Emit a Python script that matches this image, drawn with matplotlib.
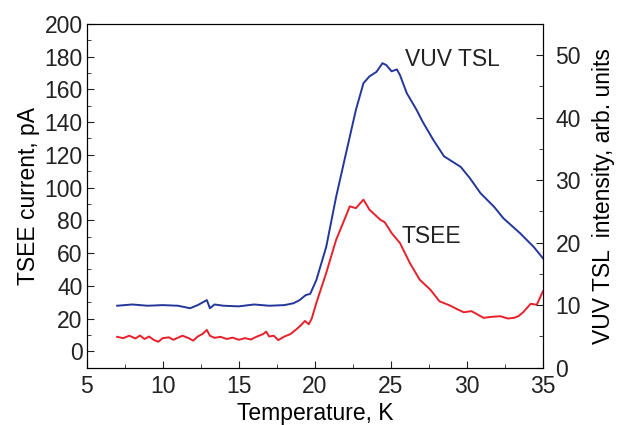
import numpy as np
import matplotlib
matplotlib.use('Agg')
import matplotlib.pyplot as plt
from matplotlib.ticker import MultipleLocator

plt.rcParams['font.family'] = ['Liberation Sans', 'DejaVu Sans']
plt.rcParams['font.size'] = 16.5
plt.rcParams['text.color'] = '#222222'
plt.rcParams['xtick.color'] = '#222222'
plt.rcParams['ytick.color'] = '#222222'

# TSEE current, pA (left axis)
t_tsee = [7.0, 7.4, 7.8, 8.2, 8.5, 8.8, 9.1, 9.4, 9.7, 10.0, 10.4, 10.7, 11.0, 11.3,
          11.7, 12.0, 12.3, 12.6, 12.9, 13.1, 13.4, 13.8, 14.2, 14.6, 15.0, 15.4,
          15.8, 16.2, 16.6, 16.8, 17.0, 17.3, 17.6, 18.0, 18.4, 18.8, 19.1, 19.35,
          19.6, 19.8, 20.1, 20.75, 21.4, 21.9, 22.3, 22.7, 23.2, 23.6, 24.3, 24.6,
          25.05, 25.6, 26.25, 26.9, 27.6, 28.2, 28.9, 29.4, 29.8, 30.3, 30.6, 31.1,
          31.6, 32.2, 32.7, 33.1, 33.4, 33.7, 34.2, 34.6, 35.0]
tsee = [8.8, 8.0, 9.5, 7.8, 9.6, 7.5, 9.0, 7.0, 5.8, 8.0, 8.5, 7.0, 8.3, 9.5,
        8.0, 6.5, 9.0, 10.5, 13.0, 9.5, 8.2, 8.8, 7.5, 8.3, 7.0, 8.0,
        7.2, 9.0, 10.5, 12.0, 9.0, 9.5, 6.8, 9.0, 10.5, 13.5, 16.0, 18.5,
        16.5, 20.0, 29.5, 47.8, 68.0, 79.3, 88.5, 87.4, 92.6, 86.4, 80.4, 78.8,
        72.2, 66.1, 53.9, 43.7, 37.6, 30.5, 27.9, 25.5, 23.8, 24.5, 23.0, 20.4,
        21.0, 21.4, 20.0, 20.4, 21.5, 23.8, 29.0, 28.4, 36.6]

# VUV TSL intensity, arb. units (right axis)
t_tsl = [7.0, 8.0, 9.0, 10.0, 11.0, 11.8, 12.3, 12.9, 13.1, 13.4, 14.0, 15.0,
         16.0, 17.0, 18.0, 18.6, 19.0, 19.4, 19.7, 20.1, 20.75, 21.4, 22.1, 22.7,
         23.2, 23.6, 24.05, 24.45, 24.7, 25.05, 25.4, 25.6, 26.05, 26.7, 27.1,
         27.8, 28.5, 29.6, 30.2, 30.9, 31.8, 32.4, 33.5, 34.4, 35.0]
tsl = [9.9, 10.1, 9.9, 10.0, 9.9, 9.5, 10.0, 10.8, 9.5, 10.1, 9.9, 9.8,
       10.1, 9.9, 10.0, 10.3, 10.8, 11.6, 11.8, 14.0, 19.3, 27.3, 34.8, 41.2,
       45.5, 46.6, 47.3, 48.7, 48.4, 47.4, 47.7, 46.8, 43.9, 41.2, 39.3,
       36.4, 33.8, 32.1, 30.3, 27.9, 25.7, 23.9, 21.5, 19.3, 17.5]

fig = plt.figure(figsize=(6.24, 4.25), dpi=100)
ax = fig.add_axes([0.139, 0.135, 0.731, 0.809])
ax2 = ax.twinx()

ax.plot(t_tsee, tsee, color='#e8202a', lw=1.4)
ax2.plot(t_tsl, tsl, color='#23369a', lw=1.4)

ax.set_xlim(5, 35)
ax.set_ylim(-10, 200)
ax2.set_ylim(0, 55)

ax.xaxis.set_major_locator(MultipleLocator(5))
ax.xaxis.set_minor_locator(MultipleLocator(2.5))
ax.yaxis.set_major_locator(MultipleLocator(20))
ax.yaxis.set_minor_locator(MultipleLocator(10))
ax2.yaxis.set_major_locator(MultipleLocator(10))
ax2.yaxis.set_minor_locator(MultipleLocator(5))

ax.tick_params(which='both', direction='in', top=False, right=False)
ax.tick_params(axis='x', pad=5)
ax.tick_params(axis='y', pad=3)
ax.tick_params(which='major', length=5)
ax.tick_params(which='minor', length=3)
ax2.tick_params(which='both', direction='in', pad=9)
ax2.tick_params(which='major', length=5)
ax2.tick_params(which='minor', length=3)

ax.set_xlabel('Temperature, K', labelpad=3)
ax.set_ylabel('TSEE current, pA', labelpad=3)
ax2.set_ylabel('VUV TSL  intensity, arb. units', labelpad=8)

ax.text(25.9, 178, 'VUV TSL', va='center')
ax.text(25.7, 70, 'TSEE', va='center')

fig.savefig('out.png', dpi=100)
